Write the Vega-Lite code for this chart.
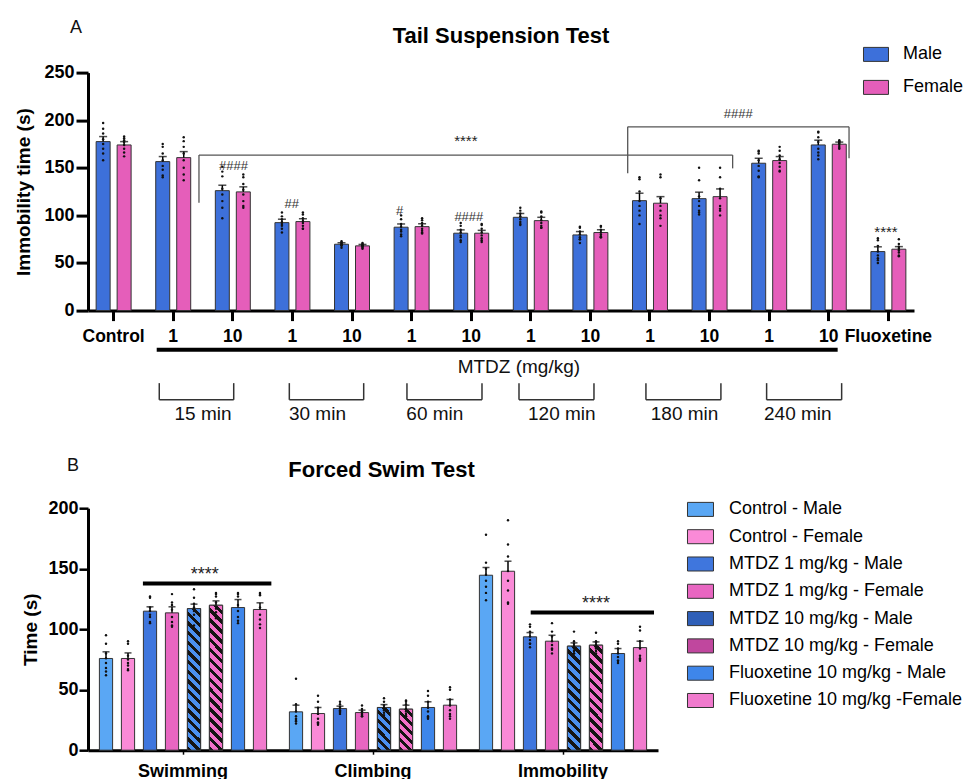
{
"$schema": "https://vega.github.io/schema/vega-lite/v6.json",
"padding": {"left": 14, "top": 18.6, "right": 0, "bottom": 0},
"background": "white",
"config": {
  "font": "Liberation Sans",
  "view": {"stroke": null},
  "axis": {"grid": false, "domainColor": "#000", "tickColor": "#000", "labelColor": "#000", "titleColor": "#000", "labelFont": "Liberation Sans", "titleFont": "Liberation Sans"},
  "legend": {"padding": 0, "labelFont": "Liberation Sans", "labelColor": "#000", "labelLimit": 400}
},
"datasets": {
  "A": [
    {"g":"Control","s":"Male","m":177.5,"e":182.8,"p":[197,191,186,180,175,170,165,158]},
    {"g":"Control","s":"Female","m":174,"e":177.5,"p":[183,181,179,177,174,170,166,162]},
    {"g":"1|15","s":"Male","m":156.5,"e":161.8,"p":[175,172,165,158,152,148,140,142]},
    {"g":"1|15","s":"Female","m":160.7,"e":167,"p":[182,178,172,165,158,150,143,137]},
    {"g":"10|15","s":"Male","m":126,"e":131.7,"p":[151,146,141,128,122,115,108,97]},
    {"g":"10|15","s":"Female","m":124.7,"e":130,"p":[143,140,133,127,122,115,108,110]},
    {"g":"1|30","s":"Male","m":92.4,"e":96,"p":[103,99,96,93,91,89,86,82]},
    {"g":"1|30","s":"Female","m":93.5,"e":96.5,"p":[103,101,97,94,92,89,86,86]},
    {"g":"10|30","s":"Male","m":69.7,"e":71.2,"p":[73,72,71,70,69,69,68,66]},
    {"g":"10|30","s":"Female","m":68,"e":69.5,"p":[71,70,69,68,68,67,66,65]},
    {"g":"1|60","s":"Male","m":87.6,"e":91,"p":[100,96,91,88,85,83,80,78]},
    {"g":"1|60","s":"Female","m":88.2,"e":91.2,"p":[97,95,92,89,86,84,82,81]},
    {"g":"10|60","s":"Male","m":81.3,"e":84.8,"p":[92,89,85,82,79,77,74,72]},
    {"g":"10|60","s":"Female","m":81.3,"e":84.3,"p":[91,90,86,82,79,76,74,72]},
    {"g":"1|120","s":"Male","m":98,"e":102,"p":[108,105,102,99,96,93,90,91]},
    {"g":"1|120","s":"Female","m":94.5,"e":98,"p":[104,103,99,95,92,89,87,87]},
    {"g":"10|120","s":"Male","m":79.5,"e":83,"p":[88,87,83,80,77,75,71,75]},
    {"g":"10|120","s":"Female","m":82,"e":84.8,"p":[89,88,85,82,80,78,77,77]},
    {"g":"1|180","s":"Male","m":115.5,"e":123.3,"p":[140,138,125,115,110,105,100,91]},
    {"g":"1|180","s":"Female","m":112.8,"e":119.7,"p":[143,140,118,110,105,100,97,89]},
    {"g":"10|180","s":"Male","m":117.6,"e":124.4,"p":[150,137,120,115,110,105,101,103]},
    {"g":"10|180","s":"Female","m":119.7,"e":127.8,"p":[150,140,128,118,110,105,100,107]},
    {"g":"1|240","s":"Male","m":154.8,"e":160,"p":[168,167,165,158,152,147,141,140]},
    {"g":"1|240","s":"Female","m":157.6,"e":161.8,"p":[172,168,163,159,155,151,147,146]},
    {"g":"10|240","s":"Male","m":174,"e":179,"p":[188,187,182,177,170,166,163,159]},
    {"g":"10|240","s":"Female","m":174.8,"e":177,"p":[179,178,177,176,175,173,171,170]},
    {"g":"Fluoxetine","s":"Male","m":62,"e":67,"p":[76,74,68,62,58,55,53,50]},
    {"g":"Fluoxetine","s":"Female","m":64.5,"e":67.2,"p":[75,70,67,65,63,61,58,57]}
  ],
  "annA": [
    {"k":"thin","x1":1.932,"x2":10.887,"y1":163.4,"y2":163.4},
    {"k":"thin","x1":1.932,"x2":1.932,"y1":163.4,"y2":113.3},
    {"k":"thin","x1":10.887,"x2":10.887,"y1":163.4,"y2":149.4},
    {"k":"thin","x1":9.126,"x2":12.84,"y1":193,"y2":193},
    {"k":"thin","x1":9.126,"x2":9.126,"y1":193,"y2":144.2},
    {"k":"thin","x1":12.84,"x2":12.84,"y1":193,"y2":160},
    {"k":"brk","x1":1.266,"x2":1.266,"y1":-76.2,"y2":-93.7},
    {"k":"brk","x1":1.266,"x2":2.515,"y1":-93.7,"y2":-93.7},
    {"k":"brk","x1":2.515,"x2":2.515,"y1":-76.2,"y2":-93.7},
    {"k":"brk","x1":3.448,"x2":3.448,"y1":-76.2,"y2":-93.7},
    {"k":"brk","x1":3.448,"x2":4.696,"y1":-93.7,"y2":-93.7},
    {"k":"brk","x1":4.696,"x2":4.696,"y1":-76.2,"y2":-93.7},
    {"k":"brk","x1":5.422,"x2":5.422,"y1":-76.2,"y2":-93.7},
    {"k":"brk","x1":5.422,"x2":6.681,"y1":-93.7,"y2":-93.7},
    {"k":"brk","x1":6.681,"x2":6.681,"y1":-76.2,"y2":-93.7},
    {"k":"brk","x1":7.302,"x2":7.302,"y1":-76.2,"y2":-93.7},
    {"k":"brk","x1":7.302,"x2":8.56,"y1":-93.7,"y2":-93.7},
    {"k":"brk","x1":8.56,"x2":8.56,"y1":-76.2,"y2":-93.7},
    {"k":"brk","x1":9.432,"x2":9.432,"y1":-76.2,"y2":-93.7},
    {"k":"brk","x1":9.432,"x2":10.69,"y1":-93.7,"y2":-93.7},
    {"k":"brk","x1":10.69,"x2":10.69,"y1":-76.2,"y2":-93.7},
    {"k":"brk","x1":11.457,"x2":11.457,"y1":-76.2,"y2":-93.7},
    {"k":"brk","x1":11.457,"x2":12.716,"y1":-93.7,"y2":-93.7},
    {"k":"brk","x1":12.716,"x2":12.716,"y1":-76.2,"y2":-93.7},
    {"k":"thick","x1":1.223,"x2":12.649,"y1":-41.2,"y2":-41.2}
  ],
  "txtA": [
    {"k":"letter","x":-0.131,"y":291.4,"t":"A"},
    {"k":"title","x":7.0,"y":280.9,"t":"Tail Suspension Test"},
    {"k":"star","x":6.41,"y":173.2,"t":"****"},
    {"k":"star","x":13.46,"y":77.4,"t":"****"},
    {"k":"hash","x":10.98,"y":202.5,"t":"####"},
    {"k":"hash","x":2.51,"y":147.2,"t":"####"},
    {"k":"hash","x":3.49,"y":108,"t":"##"},
    {"k":"hash","x":5.3,"y":100.7,"t":"#"},
    {"k":"hash","x":6.46,"y":93.7,"t":"####"},
    {"k":"label","x":7.3,"y":-65.4,"t":"MTDZ (mg/kg)"},
    {"k":"label","x":2.0,"y":-115,"t":"15 min"},
    {"k":"label","x":3.92,"y":-115,"t":"30 min"},
    {"k":"label","x":5.89,"y":-115,"t":"60 min"},
    {"k":"label","x":8.02,"y":-115,"t":"120 min"},
    {"k":"label","x":10.08,"y":-115,"t":"180 min"},
    {"k":"label","x":11.98,"y":-115,"t":"240 min"}
  ],
  "B": [
    {"g":"Swimming","t":"Control - Male","m":75.8,"e":81.3,"p":[95,88,80,76,72,68,62,65]},
    {"g":"Swimming","t":"Control - Female","m":75.8,"e":80.4,"p":[90,88,78,75,72,70,67,66]},
    {"g":"Swimming","t":"MTDZ 1 mg/kg - Male","m":114.9,"e":118.5,"p":[127,126,118,115,112,110,106,105]},
    {"g":"Swimming","t":"MTDZ 1 mg/kg - Female","m":113.5,"e":118.5,"p":[129,122,120,116,110,106,103,102]},
    {"g":"Swimming","t":"MTDZ 10 mg/kg - Male","m":117,"e":120.7,"p":[133,126,121,118,115,112,108,103]},
    {"g":"Swimming","t":"MTDZ 10 mg/kg - Female","m":119.8,"e":123.4,"p":[130,129,127,122,117,114,110,109]},
    {"g":"Swimming","t":"Fluoxetine 10 mg/kg - Male","m":117.9,"e":124.5,"p":[130,129,127,120,115,110,105,107]},
    {"g":"Swimming","t":"Fluoxetine 10 mg/kg -Female","m":116.3,"e":121.8,"p":[130,129,128,118,112,108,104,101]},
    {"g":"Climbing","t":"Control - Male","m":31.7,"e":37.2,"p":[59,38,32,28,26,24,25,22]},
    {"g":"Climbing","t":"Control - Female","m":30.3,"e":35.3,"p":[45,40,35,30,26,23,22,21]},
    {"g":"Climbing","t":"MTDZ 1 mg/kg - Male","m":34.4,"e":36.4,"p":[40,38,36,35,33,32,31,30]},
    {"g":"Climbing","t":"MTDZ 1 mg/kg - Female","m":31.1,"e":33.1,"p":[37,34,32,31,30,29,28,28]},
    {"g":"Climbing","t":"MTDZ 10 mg/kg - Male","m":35.3,"e":37.7,"p":[43,40,37,35,34,33,31,29]},
    {"g":"Climbing","t":"MTDZ 10 mg/kg - Female","m":33.9,"e":37.2,"p":[41,40,38,34,32,30,28,28]},
    {"g":"Climbing","t":"Fluoxetine 10 mg/kg - Male","m":35.3,"e":40,"p":[49,45,40,35,32,28,26,27]},
    {"g":"Climbing","t":"Fluoxetine 10 mg/kg -Female","m":37.2,"e":41.9,"p":[52,50,42,37,33,30,28,26]},
    {"g":"Immobility","t":"Control - Male","m":144.6,"e":151,"p":[178,155,150,145,140,135,130,124]},
    {"g":"Immobility","t":"Control - Female","m":147.9,"e":156.2,"p":[190,170,160,148,140,132,122,121]},
    {"g":"Immobility","t":"MTDZ 1 mg/kg - Male","m":93.7,"e":97.2,"p":[104,102,98,94,91,88,85,88]},
    {"g":"Immobility","t":"MTDZ 1 mg/kg - Female","m":90.1,"e":95,"p":[105,98,94,90,87,84,80,83]},
    {"g":"Immobility","t":"MTDZ 10 mg/kg - Male","m":86,"e":88.7,"p":[98,90,88,86,84,82,80,80]},
    {"g":"Immobility","t":"MTDZ 10 mg/kg - Female","m":86.8,"e":89.5,"p":[97,90,89,87,85,84,82,80]},
    {"g":"Immobility","t":"Fluoxetine 10 mg/kg - Male","m":79.9,"e":84,"p":[90,88,84,80,77,74,72,74]},
    {"g":"Immobility","t":"Fluoxetine 10 mg/kg -Female","m":84.8,"e":90.1,"p":[102,99,90,84,78,76,74,75]}
  ],
  "annB": [
    {"k":"thick","x1":0.289,"x2":0.965,"y1":137.8,"y2":137.8},
    {"k":"thick","x1":2.33,"x2":2.979,"y1":113.8,"y2":113.8}
  ],
  "txtB": [
    {"k":"letter","x":-0.079,"y":230.6,"t":"B"},
    {"k":"title","x":1.545,"y":225.4,"t":"Forced Swim Test"},
    {"k":"star","x":0.614,"y":141,"t":"****"},
    {"k":"star","x":2.674,"y":116.9,"t":"****"}
  ]
},
"vconcat": [
  {
    "width": 826,
    "height": 238,
    "layer": [
      {
        "data": {"name": "A"},
        "layer": [
          {
            "mark": {"type": "bar", "stroke": "#333", "strokeWidth": 1},
            "encoding": {
              "x": {"field": "g", "type": "nominal", "title": null,
                "scale": {"domain": ["Control","1|15","10|15","1|30","10|30","1|60","10|60","1|120","10|120","1|180","10|180","1|240","10|240","Fluoxetine"], "paddingInner": 0.413, "paddingOuter": 0.1365},
                "axis": {"labelExpr": "split(datum.label, '|')[0]", "labelAngle": 0, "labelFontSize": 17.5, "labelFontWeight": "bold", "domainWidth": 3, "tickWidth": 3, "tickSize": 10, "labelPadding": 7, "labelOverlap": false, "labelBound": false, "labelFlush": false}},
              "xOffset": {"field": "s", "type": "nominal", "scale": {"domain": ["Male","Female"], "paddingInner": 0.3333, "paddingOuter": 0}},
              "y": {"field": "m", "type": "quantitative", "title": "Immobility time (s)", "scale": {"domain": [0, 250], "nice": false},
                "axis": {"values": [0,50,100,150,200,250], "labelFontSize": 18, "labelFontWeight": "bold", "titleFontSize": 19, "titleFontWeight": "bold", "domainWidth": 3, "tickWidth": 3, "tickSize": 12, "labelPadding": 2, "titlePadding": 10}},
              "color": {"field": "s", "type": "nominal", "scale": {"domain": ["Male","Female"], "range": ["#3d70da", "#e55eba"]},
                "legend": {"title": null, "orient": "none", "legendX": 775, "legendY": -31.2, "symbolType": "M-1,-0.56H1V0.56H-1Z", "symbolSize": 625, "symbolStrokeColor": "#333", "symbolStrokeWidth": 1, "labelFontSize": 18, "labelOffset": 14, "rowPadding": 11}}
            }
          },
          {
            "mark": {"type": "rule", "color": "#000", "strokeWidth": 1.5},
            "encoding": {
              "x": {"field": "g", "type": "nominal", "title": null, "scale": {"domain": ["Control","1|15","10|15","1|30","10|30","1|60","10|60","1|120","10|120","1|180","10|180","1|240","10|240","Fluoxetine"], "paddingInner": 0.413, "paddingOuter": 0.1365}},
              "xOffset": {"field": "s", "type": "nominal", "scale": {"domain": ["Male","Female"], "paddingInner": 0.3333, "paddingOuter": 0}},
              "y": {"field": "m", "type": "quantitative", "title": "Immobility time (s)", "scale": {"domain": [0, 250], "nice": false}},
              "y2": {"field": "e"}
            }
          },
          {
            "mark": {"type": "tick", "color": "#000", "thickness": 1.5, "size": 8},
            "encoding": {
              "x": {"field": "g", "type": "nominal", "title": null, "scale": {"domain": ["Control","1|15","10|15","1|30","10|30","1|60","10|60","1|120","10|120","1|180","10|180","1|240","10|240","Fluoxetine"], "paddingInner": 0.413, "paddingOuter": 0.1365}},
              "xOffset": {"field": "s", "type": "nominal", "scale": {"domain": ["Male","Female"], "paddingInner": 0.3333, "paddingOuter": 0}},
              "y": {"field": "e", "type": "quantitative", "title": "Immobility time (s)", "scale": {"domain": [0, 250], "nice": false}}
            }
          },
          {
            "transform": [{"flatten": ["p"]}],
            "mark": {"type": "point", "filled": true, "color": "#111", "size": 6, "opacity": 1},
            "encoding": {
              "x": {"field": "g", "type": "nominal", "title": null, "scale": {"domain": ["Control","1|15","10|15","1|30","10|30","1|60","10|60","1|120","10|120","1|180","10|180","1|240","10|240","Fluoxetine"], "paddingInner": 0.413, "paddingOuter": 0.1365}},
              "xOffset": {"field": "s", "type": "nominal", "scale": {"domain": ["Male","Female"], "paddingInner": 0.3333, "paddingOuter": 0}},
              "y": {"field": "p", "type": "quantitative", "title": "Immobility time (s)", "scale": {"domain": [0, 250], "nice": false}}
            }
          }
        ]
      },
      {
        "data": {"name": "annA"},
        "layer": [
          {
            "transform": [{"filter": "datum.k === 'thin'"}],
            "mark": {"type": "rule", "color": "#555", "strokeWidth": 1.3},
            "encoding": {
              "x": {"field": "x1", "type": "quantitative", "axis": null, "scale": {"domain": [0.07, 13.93], "nice": false, "zero": false}},
              "x2": {"field": "x2"},
              "y": {"field": "y1", "type": "quantitative", "title": "Immobility time (s)", "scale": {"domain": [0, 250], "nice": false}},
              "y2": {"field": "y2"}
            }
          },
          {
            "transform": [{"filter": "datum.k === 'brk'"}],
            "mark": {"type": "rule", "color": "#333", "strokeWidth": 1.5},
            "encoding": {
              "x": {"field": "x1", "type": "quantitative", "axis": null, "scale": {"domain": [0.07, 13.93], "nice": false, "zero": false}},
              "x2": {"field": "x2"},
              "y": {"field": "y1", "type": "quantitative", "title": "Immobility time (s)", "scale": {"domain": [0, 250], "nice": false}},
              "y2": {"field": "y2"}
            }
          },
          {
            "transform": [{"filter": "datum.k === 'thick'"}],
            "mark": {"type": "rule", "color": "#000", "strokeWidth": 4},
            "encoding": {
              "x": {"field": "x1", "type": "quantitative", "axis": null, "scale": {"domain": [0.07, 13.93], "nice": false, "zero": false}},
              "x2": {"field": "x2"},
              "y": {"field": "y1", "type": "quantitative", "title": "Immobility time (s)", "scale": {"domain": [0, 250], "nice": false}},
              "y2": {"field": "y2"}
            }
          },
          {
            "data": {"name": "txtA"},
            "transform": [{"filter": "datum.k === 'letter'"}],
            "mark": {"type": "text", "fontSize": 18, "align": "center", "baseline": "alphabetic", "color": "#111"},
            "encoding": {
              "x": {"field": "x", "type": "quantitative", "axis": null, "scale": {"domain": [0.07, 13.93], "nice": false, "zero": false}},
              "y": {"field": "y", "type": "quantitative", "title": "Immobility time (s)", "scale": {"domain": [0, 250], "nice": false}},
              "text": {"field": "t"}
            }
          },
          {
            "data": {"name": "txtA"},
            "transform": [{"filter": "datum.k === 'title'"}],
            "mark": {"type": "text", "fontSize": 22, "fontWeight": "bold", "align": "center", "baseline": "alphabetic", "color": "#000"},
            "encoding": {
              "x": {"field": "x", "type": "quantitative", "axis": null, "scale": {"domain": [0.07, 13.93], "nice": false, "zero": false}},
              "y": {"field": "y", "type": "quantitative", "title": "Immobility time (s)", "scale": {"domain": [0, 250], "nice": false}},
              "text": {"field": "t"}
            }
          },
          {
            "data": {"name": "txtA"},
            "transform": [{"filter": "datum.k === 'star'"}],
            "mark": {"type": "text", "fontSize": 15, "align": "center", "baseline": "alphabetic", "color": "#222"},
            "encoding": {
              "x": {"field": "x", "type": "quantitative", "axis": null, "scale": {"domain": [0.07, 13.93], "nice": false, "zero": false}},
              "y": {"field": "y", "type": "quantitative", "title": "Immobility time (s)", "scale": {"domain": [0, 250], "nice": false}},
              "text": {"field": "t"}
            }
          },
          {
            "data": {"name": "txtA"},
            "transform": [{"filter": "datum.k === 'hash'"}],
            "mark": {"type": "text", "fontSize": 13, "align": "center", "baseline": "alphabetic", "color": "#333"},
            "encoding": {
              "x": {"field": "x", "type": "quantitative", "axis": null, "scale": {"domain": [0.07, 13.93], "nice": false, "zero": false}},
              "y": {"field": "y", "type": "quantitative", "title": "Immobility time (s)", "scale": {"domain": [0, 250], "nice": false}},
              "text": {"field": "t"}
            }
          },
          {
            "data": {"name": "txtA"},
            "transform": [{"filter": "datum.k === 'label'"}],
            "mark": {"type": "text", "fontSize": 19, "align": "center", "baseline": "alphabetic", "color": "#111"},
            "encoding": {
              "x": {"field": "x", "type": "quantitative", "axis": null, "scale": {"domain": [0.07, 13.93], "nice": false, "zero": false}},
              "y": {"field": "y", "type": "quantitative", "title": "Immobility time (s)", "scale": {"domain": [0, 250], "nice": false}},
              "text": {"field": "t"}
            }
          }
        ]
      }
    ],
    "resolve": {"scale": {"x": "independent"}}
  },
  {
    "width": 570,
    "height": 242,
    "layer": [
      {
        "data": {"name": "B"},
        "layer": [
          {
            "mark": {"type": "bar", "stroke": "#333", "strokeWidth": 1},
            "encoding": {
              "x": {"field": "g", "type": "nominal", "title": null, "scale": {"domain": ["Swimming","Climbing","Immobility"], "paddingInner": 0.12, "paddingOuter": 0.06},
                "axis": {"labelAngle": 0, "labelFontSize": 18, "labelFontWeight": "bold", "domainWidth": 3, "tickWidth": 1.5, "tickSize": 4, "labelPadding": 8}},
              "xOffset": {"field": "t", "type": "nominal", "scale": {"domain": ["Control - Male","Control - Female","MTDZ 1 mg/kg - Male","MTDZ 1 mg/kg - Female","MTDZ 10 mg/kg - Male","MTDZ 10 mg/kg - Female","Fluoxetine 10 mg/kg - Male","Fluoxetine 10 mg/kg -Female"], "paddingInner": 0.4, "paddingOuter": 0}},
              "y": {"field": "m", "type": "quantitative", "title": "Time (s)", "scale": {"domain": [0, 200], "nice": false},
                "axis": {"values": [0,50,100,150,200], "labelFontSize": 18, "labelFontWeight": "bold", "titleFontSize": 19, "titleFontWeight": "bold", "domainWidth": 3, "tickWidth": 2.5, "tickSize": 9, "labelPadding": 1, "titlePadding": 7}},
              "color": {"field": "t", "type": "nominal",
                "scale": {"domain": ["Control - Male","Control - Female","MTDZ 1 mg/kg - Male","MTDZ 1 mg/kg - Female","MTDZ 10 mg/kg - Male","MTDZ 10 mg/kg - Female","Fluoxetine 10 mg/kg - Male","Fluoxetine 10 mg/kg -Female"],
                  "range": ["#5aa7f4","#fa8ad7","#3f76dd","#e866c1","#2f5fb8","#c0479e","#3e86ea","#f07acd"]},
                "legend": {"title": null, "orient": "none", "legendX": 599, "legendY": -12.3, "symbolType": "M-1,-0.54H1V0.54H-1Z", "symbolSize": 676, "symbolStrokeColor": "#333", "symbolStrokeWidth": 1, "labelFontSize": 18, "labelOffset": 15, "rowPadding": 4.3}}
            }
          },
          {
            "transform": [{"filter": "datum.g === 'Swimming' && datum.t === 'MTDZ 10 mg/kg - Male'"}],
            "mark": {"type": "bar", "stroke": "#333", "strokeWidth": 1, "fill": {"gradient": "linear", "x1": 1, "y1": 0, "x2": 0.9, "y2": 1.083, "stops": [
              {"offset":0,"color":"#4b90f0"},{"offset":0.0344,"color":"#4b90f0"},{"offset":0.0344,"color":"#141414"},{"offset":0.0625,"color":"#141414"},
              {"offset":0.0625,"color":"#4b90f0"},{"offset":0.0969,"color":"#4b90f0"},{"offset":0.0969,"color":"#141414"},{"offset":0.125,"color":"#141414"},
              {"offset":0.125,"color":"#4b90f0"},{"offset":0.1594,"color":"#4b90f0"},{"offset":0.1594,"color":"#141414"},{"offset":0.1875,"color":"#141414"},
              {"offset":0.1875,"color":"#4b90f0"},{"offset":0.2219,"color":"#4b90f0"},{"offset":0.2219,"color":"#141414"},{"offset":0.25,"color":"#141414"},
              {"offset":0.25,"color":"#4b90f0"},{"offset":0.2844,"color":"#4b90f0"},{"offset":0.2844,"color":"#141414"},{"offset":0.3125,"color":"#141414"},
              {"offset":0.3125,"color":"#4b90f0"},{"offset":0.3469,"color":"#4b90f0"},{"offset":0.3469,"color":"#141414"},{"offset":0.375,"color":"#141414"},
              {"offset":0.375,"color":"#4b90f0"},{"offset":0.4094,"color":"#4b90f0"},{"offset":0.4094,"color":"#141414"},{"offset":0.4375,"color":"#141414"},
              {"offset":0.4375,"color":"#4b90f0"},{"offset":0.4719,"color":"#4b90f0"},{"offset":0.4719,"color":"#141414"},{"offset":0.5,"color":"#141414"},
              {"offset":0.5,"color":"#4b90f0"},{"offset":0.5344,"color":"#4b90f0"},{"offset":0.5344,"color":"#141414"},{"offset":0.5625,"color":"#141414"},
              {"offset":0.5625,"color":"#4b90f0"},{"offset":0.5969,"color":"#4b90f0"},{"offset":0.5969,"color":"#141414"},{"offset":0.625,"color":"#141414"},
              {"offset":0.625,"color":"#4b90f0"},{"offset":0.6594,"color":"#4b90f0"},{"offset":0.6594,"color":"#141414"},{"offset":0.6875,"color":"#141414"},
              {"offset":0.6875,"color":"#4b90f0"},{"offset":0.7219,"color":"#4b90f0"},{"offset":0.7219,"color":"#141414"},{"offset":0.75,"color":"#141414"},
              {"offset":0.75,"color":"#4b90f0"},{"offset":0.7844,"color":"#4b90f0"},{"offset":0.7844,"color":"#141414"},{"offset":0.8125,"color":"#141414"},
              {"offset":0.8125,"color":"#4b90f0"},{"offset":0.8469,"color":"#4b90f0"},{"offset":0.8469,"color":"#141414"},{"offset":0.875,"color":"#141414"},
              {"offset":0.875,"color":"#4b90f0"},{"offset":0.9094,"color":"#4b90f0"},{"offset":0.9094,"color":"#141414"},{"offset":0.9375,"color":"#141414"},
              {"offset":0.9375,"color":"#4b90f0"},{"offset":0.9719,"color":"#4b90f0"},{"offset":0.9719,"color":"#141414"},{"offset":1,"color":"#141414"}]}},
            "encoding": {
              "x": {"field": "g", "type": "nominal", "title": null, "scale": {"domain": ["Swimming","Climbing","Immobility"], "paddingInner": 0.12, "paddingOuter": 0.06}},
              "xOffset": {"field": "t", "type": "nominal", "scale": {"domain": ["Control - Male","Control - Female","MTDZ 1 mg/kg - Male","MTDZ 1 mg/kg - Female","MTDZ 10 mg/kg - Male","MTDZ 10 mg/kg - Female","Fluoxetine 10 mg/kg - Male","Fluoxetine 10 mg/kg -Female"], "paddingInner": 0.4, "paddingOuter": 0}},
              "y": {"field": "m", "type": "quantitative", "title": "Time (s)", "scale": {"domain": [0, 200], "nice": false}}
            }
          },
          {
            "transform": [{"filter": "datum.g === 'Swimming' && datum.t === 'MTDZ 10 mg/kg - Female'"}],
            "mark": {"type": "bar", "stroke": "#333", "strokeWidth": 1, "fill": {"gradient": "linear", "x1": 1, "y1": 0, "x2": 0.9, "y2": 1.083, "stops": [
              {"offset":0,"color":"#f270c9"},{"offset":0.0344,"color":"#f270c9"},{"offset":0.0344,"color":"#141414"},{"offset":0.0625,"color":"#141414"},
              {"offset":0.0625,"color":"#f270c9"},{"offset":0.0969,"color":"#f270c9"},{"offset":0.0969,"color":"#141414"},{"offset":0.125,"color":"#141414"},
              {"offset":0.125,"color":"#f270c9"},{"offset":0.1594,"color":"#f270c9"},{"offset":0.1594,"color":"#141414"},{"offset":0.1875,"color":"#141414"},
              {"offset":0.1875,"color":"#f270c9"},{"offset":0.2219,"color":"#f270c9"},{"offset":0.2219,"color":"#141414"},{"offset":0.25,"color":"#141414"},
              {"offset":0.25,"color":"#f270c9"},{"offset":0.2844,"color":"#f270c9"},{"offset":0.2844,"color":"#141414"},{"offset":0.3125,"color":"#141414"},
              {"offset":0.3125,"color":"#f270c9"},{"offset":0.3469,"color":"#f270c9"},{"offset":0.3469,"color":"#141414"},{"offset":0.375,"color":"#141414"},
              {"offset":0.375,"color":"#f270c9"},{"offset":0.4094,"color":"#f270c9"},{"offset":0.4094,"color":"#141414"},{"offset":0.4375,"color":"#141414"},
              {"offset":0.4375,"color":"#f270c9"},{"offset":0.4719,"color":"#f270c9"},{"offset":0.4719,"color":"#141414"},{"offset":0.5,"color":"#141414"},
              {"offset":0.5,"color":"#f270c9"},{"offset":0.5344,"color":"#f270c9"},{"offset":0.5344,"color":"#141414"},{"offset":0.5625,"color":"#141414"},
              {"offset":0.5625,"color":"#f270c9"},{"offset":0.5969,"color":"#f270c9"},{"offset":0.5969,"color":"#141414"},{"offset":0.625,"color":"#141414"},
              {"offset":0.625,"color":"#f270c9"},{"offset":0.6594,"color":"#f270c9"},{"offset":0.6594,"color":"#141414"},{"offset":0.6875,"color":"#141414"},
              {"offset":0.6875,"color":"#f270c9"},{"offset":0.7219,"color":"#f270c9"},{"offset":0.7219,"color":"#141414"},{"offset":0.75,"color":"#141414"},
              {"offset":0.75,"color":"#f270c9"},{"offset":0.7844,"color":"#f270c9"},{"offset":0.7844,"color":"#141414"},{"offset":0.8125,"color":"#141414"},
              {"offset":0.8125,"color":"#f270c9"},{"offset":0.8469,"color":"#f270c9"},{"offset":0.8469,"color":"#141414"},{"offset":0.875,"color":"#141414"},
              {"offset":0.875,"color":"#f270c9"},{"offset":0.9094,"color":"#f270c9"},{"offset":0.9094,"color":"#141414"},{"offset":0.9375,"color":"#141414"},
              {"offset":0.9375,"color":"#f270c9"},{"offset":0.9719,"color":"#f270c9"},{"offset":0.9719,"color":"#141414"},{"offset":1,"color":"#141414"}]}},
            "encoding": {
              "x": {"field": "g", "type": "nominal", "title": null, "scale": {"domain": ["Swimming","Climbing","Immobility"], "paddingInner": 0.12, "paddingOuter": 0.06}},
              "xOffset": {"field": "t", "type": "nominal", "scale": {"domain": ["Control - Male","Control - Female","MTDZ 1 mg/kg - Male","MTDZ 1 mg/kg - Female","MTDZ 10 mg/kg - Male","MTDZ 10 mg/kg - Female","Fluoxetine 10 mg/kg - Male","Fluoxetine 10 mg/kg -Female"], "paddingInner": 0.4, "paddingOuter": 0}},
              "y": {"field": "m", "type": "quantitative", "title": "Time (s)", "scale": {"domain": [0, 200], "nice": false}}
            }
          },
          {
            "transform": [{"filter": "datum.g === 'Climbing' && datum.t === 'MTDZ 10 mg/kg - Male'"}],
            "mark": {"type": "bar", "stroke": "#333", "strokeWidth": 1, "fill": {"gradient": "linear", "x1": 1, "y1": 0, "x2": 0.624, "y2": 1.196, "stops": [
              {"offset":0,"color":"#4b90f0"},{"offset":0.0917,"color":"#4b90f0"},{"offset":0.0917,"color":"#141414"},{"offset":0.1667,"color":"#141414"},
              {"offset":0.1667,"color":"#4b90f0"},{"offset":0.2583,"color":"#4b90f0"},{"offset":0.2583,"color":"#141414"},{"offset":0.3333,"color":"#141414"},
              {"offset":0.3333,"color":"#4b90f0"},{"offset":0.425,"color":"#4b90f0"},{"offset":0.425,"color":"#141414"},{"offset":0.5,"color":"#141414"},
              {"offset":0.5,"color":"#4b90f0"},{"offset":0.5917,"color":"#4b90f0"},{"offset":0.5917,"color":"#141414"},{"offset":0.6667,"color":"#141414"},
              {"offset":0.6667,"color":"#4b90f0"},{"offset":0.7583,"color":"#4b90f0"},{"offset":0.7583,"color":"#141414"},{"offset":0.8333,"color":"#141414"},
              {"offset":0.8333,"color":"#4b90f0"},{"offset":0.925,"color":"#4b90f0"},{"offset":0.925,"color":"#141414"},{"offset":1,"color":"#141414"}]}},
            "encoding": {
              "x": {"field": "g", "type": "nominal", "title": null, "scale": {"domain": ["Swimming","Climbing","Immobility"], "paddingInner": 0.12, "paddingOuter": 0.06}},
              "xOffset": {"field": "t", "type": "nominal", "scale": {"domain": ["Control - Male","Control - Female","MTDZ 1 mg/kg - Male","MTDZ 1 mg/kg - Female","MTDZ 10 mg/kg - Male","MTDZ 10 mg/kg - Female","Fluoxetine 10 mg/kg - Male","Fluoxetine 10 mg/kg -Female"], "paddingInner": 0.4, "paddingOuter": 0}},
              "y": {"field": "m", "type": "quantitative", "title": "Time (s)", "scale": {"domain": [0, 200], "nice": false}}
            }
          },
          {
            "transform": [{"filter": "datum.g === 'Climbing' && datum.t === 'MTDZ 10 mg/kg - Female'"}],
            "mark": {"type": "bar", "stroke": "#333", "strokeWidth": 1, "fill": {"gradient": "linear", "x1": 1, "y1": 0, "x2": 0.624, "y2": 1.196, "stops": [
              {"offset":0,"color":"#f270c9"},{"offset":0.0917,"color":"#f270c9"},{"offset":0.0917,"color":"#141414"},{"offset":0.1667,"color":"#141414"},
              {"offset":0.1667,"color":"#f270c9"},{"offset":0.2583,"color":"#f270c9"},{"offset":0.2583,"color":"#141414"},{"offset":0.3333,"color":"#141414"},
              {"offset":0.3333,"color":"#f270c9"},{"offset":0.425,"color":"#f270c9"},{"offset":0.425,"color":"#141414"},{"offset":0.5,"color":"#141414"},
              {"offset":0.5,"color":"#f270c9"},{"offset":0.5917,"color":"#f270c9"},{"offset":0.5917,"color":"#141414"},{"offset":0.6667,"color":"#141414"},
              {"offset":0.6667,"color":"#f270c9"},{"offset":0.7583,"color":"#f270c9"},{"offset":0.7583,"color":"#141414"},{"offset":0.8333,"color":"#141414"},
              {"offset":0.8333,"color":"#f270c9"},{"offset":0.925,"color":"#f270c9"},{"offset":0.925,"color":"#141414"},{"offset":1,"color":"#141414"}]}},
            "encoding": {
              "x": {"field": "g", "type": "nominal", "title": null, "scale": {"domain": ["Swimming","Climbing","Immobility"], "paddingInner": 0.12, "paddingOuter": 0.06}},
              "xOffset": {"field": "t", "type": "nominal", "scale": {"domain": ["Control - Male","Control - Female","MTDZ 1 mg/kg - Male","MTDZ 1 mg/kg - Female","MTDZ 10 mg/kg - Male","MTDZ 10 mg/kg - Female","Fluoxetine 10 mg/kg - Male","Fluoxetine 10 mg/kg -Female"], "paddingInner": 0.4, "paddingOuter": 0}},
              "y": {"field": "m", "type": "quantitative", "title": "Time (s)", "scale": {"domain": [0, 200], "nice": false}}
            }
          },
          {
            "transform": [{"filter": "datum.g === 'Immobility' && datum.t === 'MTDZ 10 mg/kg - Male'"}],
            "mark": {"type": "bar", "stroke": "#333", "strokeWidth": 1, "fill": {"gradient": "linear", "x1": 1, "y1": 0, "x2": 0.86, "y2": 1.109, "stops": [
              {"offset":0,"color":"#4b90f0"},{"offset":0.0458,"color":"#4b90f0"},{"offset":0.0458,"color":"#141414"},{"offset":0.0833,"color":"#141414"},
              {"offset":0.0833,"color":"#4b90f0"},{"offset":0.1292,"color":"#4b90f0"},{"offset":0.1292,"color":"#141414"},{"offset":0.1667,"color":"#141414"},
              {"offset":0.1667,"color":"#4b90f0"},{"offset":0.2125,"color":"#4b90f0"},{"offset":0.2125,"color":"#141414"},{"offset":0.25,"color":"#141414"},
              {"offset":0.25,"color":"#4b90f0"},{"offset":0.2958,"color":"#4b90f0"},{"offset":0.2958,"color":"#141414"},{"offset":0.3333,"color":"#141414"},
              {"offset":0.3333,"color":"#4b90f0"},{"offset":0.3792,"color":"#4b90f0"},{"offset":0.3792,"color":"#141414"},{"offset":0.4167,"color":"#141414"},
              {"offset":0.4167,"color":"#4b90f0"},{"offset":0.4625,"color":"#4b90f0"},{"offset":0.4625,"color":"#141414"},{"offset":0.5,"color":"#141414"},
              {"offset":0.5,"color":"#4b90f0"},{"offset":0.5458,"color":"#4b90f0"},{"offset":0.5458,"color":"#141414"},{"offset":0.5833,"color":"#141414"},
              {"offset":0.5833,"color":"#4b90f0"},{"offset":0.6292,"color":"#4b90f0"},{"offset":0.6292,"color":"#141414"},{"offset":0.6667,"color":"#141414"},
              {"offset":0.6667,"color":"#4b90f0"},{"offset":0.7125,"color":"#4b90f0"},{"offset":0.7125,"color":"#141414"},{"offset":0.75,"color":"#141414"},
              {"offset":0.75,"color":"#4b90f0"},{"offset":0.7958,"color":"#4b90f0"},{"offset":0.7958,"color":"#141414"},{"offset":0.8333,"color":"#141414"},
              {"offset":0.8333,"color":"#4b90f0"},{"offset":0.8792,"color":"#4b90f0"},{"offset":0.8792,"color":"#141414"},{"offset":0.9167,"color":"#141414"},
              {"offset":0.9167,"color":"#4b90f0"},{"offset":0.9625,"color":"#4b90f0"},{"offset":0.9625,"color":"#141414"},{"offset":1,"color":"#141414"}]}},
            "encoding": {
              "x": {"field": "g", "type": "nominal", "title": null, "scale": {"domain": ["Swimming","Climbing","Immobility"], "paddingInner": 0.12, "paddingOuter": 0.06}},
              "xOffset": {"field": "t", "type": "nominal", "scale": {"domain": ["Control - Male","Control - Female","MTDZ 1 mg/kg - Male","MTDZ 1 mg/kg - Female","MTDZ 10 mg/kg - Male","MTDZ 10 mg/kg - Female","Fluoxetine 10 mg/kg - Male","Fluoxetine 10 mg/kg -Female"], "paddingInner": 0.4, "paddingOuter": 0}},
              "y": {"field": "m", "type": "quantitative", "title": "Time (s)", "scale": {"domain": [0, 200], "nice": false}}
            }
          },
          {
            "transform": [{"filter": "datum.g === 'Immobility' && datum.t === 'MTDZ 10 mg/kg - Female'"}],
            "mark": {"type": "bar", "stroke": "#333", "strokeWidth": 1, "fill": {"gradient": "linear", "x1": 1, "y1": 0, "x2": 0.86, "y2": 1.109, "stops": [
              {"offset":0,"color":"#f270c9"},{"offset":0.0458,"color":"#f270c9"},{"offset":0.0458,"color":"#141414"},{"offset":0.0833,"color":"#141414"},
              {"offset":0.0833,"color":"#f270c9"},{"offset":0.1292,"color":"#f270c9"},{"offset":0.1292,"color":"#141414"},{"offset":0.1667,"color":"#141414"},
              {"offset":0.1667,"color":"#f270c9"},{"offset":0.2125,"color":"#f270c9"},{"offset":0.2125,"color":"#141414"},{"offset":0.25,"color":"#141414"},
              {"offset":0.25,"color":"#f270c9"},{"offset":0.2958,"color":"#f270c9"},{"offset":0.2958,"color":"#141414"},{"offset":0.3333,"color":"#141414"},
              {"offset":0.3333,"color":"#f270c9"},{"offset":0.3792,"color":"#f270c9"},{"offset":0.3792,"color":"#141414"},{"offset":0.4167,"color":"#141414"},
              {"offset":0.4167,"color":"#f270c9"},{"offset":0.4625,"color":"#f270c9"},{"offset":0.4625,"color":"#141414"},{"offset":0.5,"color":"#141414"},
              {"offset":0.5,"color":"#f270c9"},{"offset":0.5458,"color":"#f270c9"},{"offset":0.5458,"color":"#141414"},{"offset":0.5833,"color":"#141414"},
              {"offset":0.5833,"color":"#f270c9"},{"offset":0.6292,"color":"#f270c9"},{"offset":0.6292,"color":"#141414"},{"offset":0.6667,"color":"#141414"},
              {"offset":0.6667,"color":"#f270c9"},{"offset":0.7125,"color":"#f270c9"},{"offset":0.7125,"color":"#141414"},{"offset":0.75,"color":"#141414"},
              {"offset":0.75,"color":"#f270c9"},{"offset":0.7958,"color":"#f270c9"},{"offset":0.7958,"color":"#141414"},{"offset":0.8333,"color":"#141414"},
              {"offset":0.8333,"color":"#f270c9"},{"offset":0.8792,"color":"#f270c9"},{"offset":0.8792,"color":"#141414"},{"offset":0.9167,"color":"#141414"},
              {"offset":0.9167,"color":"#f270c9"},{"offset":0.9625,"color":"#f270c9"},{"offset":0.9625,"color":"#141414"},{"offset":1,"color":"#141414"}]}},
            "encoding": {
              "x": {"field": "g", "type": "nominal", "title": null, "scale": {"domain": ["Swimming","Climbing","Immobility"], "paddingInner": 0.12, "paddingOuter": 0.06}},
              "xOffset": {"field": "t", "type": "nominal", "scale": {"domain": ["Control - Male","Control - Female","MTDZ 1 mg/kg - Male","MTDZ 1 mg/kg - Female","MTDZ 10 mg/kg - Male","MTDZ 10 mg/kg - Female","Fluoxetine 10 mg/kg - Male","Fluoxetine 10 mg/kg -Female"], "paddingInner": 0.4, "paddingOuter": 0}},
              "y": {"field": "m", "type": "quantitative", "title": "Time (s)", "scale": {"domain": [0, 200], "nice": false}}
            }
          },
          {
            "mark": {"type": "rule", "color": "#000", "strokeWidth": 1.5},
            "encoding": {
              "x": {"field": "g", "type": "nominal", "title": null, "scale": {"domain": ["Swimming","Climbing","Immobility"], "paddingInner": 0.12, "paddingOuter": 0.06}},
              "xOffset": {"field": "t", "type": "nominal", "scale": {"domain": ["Control - Male","Control - Female","MTDZ 1 mg/kg - Male","MTDZ 1 mg/kg - Female","MTDZ 10 mg/kg - Male","MTDZ 10 mg/kg - Female","Fluoxetine 10 mg/kg - Male","Fluoxetine 10 mg/kg -Female"], "paddingInner": 0.4, "paddingOuter": 0}},
              "y": {"field": "m", "type": "quantitative", "title": "Time (s)", "scale": {"domain": [0, 200], "nice": false}},
              "y2": {"field": "e"}
            }
          },
          {
            "mark": {"type": "tick", "color": "#000", "thickness": 1.5, "size": 7},
            "encoding": {
              "x": {"field": "g", "type": "nominal", "title": null, "scale": {"domain": ["Swimming","Climbing","Immobility"], "paddingInner": 0.12, "paddingOuter": 0.06}},
              "xOffset": {"field": "t", "type": "nominal", "scale": {"domain": ["Control - Male","Control - Female","MTDZ 1 mg/kg - Male","MTDZ 1 mg/kg - Female","MTDZ 10 mg/kg - Male","MTDZ 10 mg/kg - Female","Fluoxetine 10 mg/kg - Male","Fluoxetine 10 mg/kg -Female"], "paddingInner": 0.4, "paddingOuter": 0}},
              "y": {"field": "e", "type": "quantitative", "title": "Time (s)", "scale": {"domain": [0, 200], "nice": false}}
            }
          },
          {
            "transform": [{"flatten": ["p"]}],
            "mark": {"type": "point", "filled": true, "color": "#111", "size": 6, "opacity": 1},
            "encoding": {
              "x": {"field": "g", "type": "nominal", "title": null, "scale": {"domain": ["Swimming","Climbing","Immobility"], "paddingInner": 0.12, "paddingOuter": 0.06}},
              "xOffset": {"field": "t", "type": "nominal", "scale": {"domain": ["Control - Male","Control - Female","MTDZ 1 mg/kg - Male","MTDZ 1 mg/kg - Female","MTDZ 10 mg/kg - Male","MTDZ 10 mg/kg - Female","Fluoxetine 10 mg/kg - Male","Fluoxetine 10 mg/kg -Female"], "paddingInner": 0.4, "paddingOuter": 0}},
              "y": {"field": "p", "type": "quantitative", "title": "Time (s)", "scale": {"domain": [0, 200], "nice": false}}
            }
          }
        ]
      },
      {
        "data": {"name": "annB"},
        "layer": [
          {
            "mark": {"type": "rule", "color": "#000", "strokeWidth": 4},
            "encoding": {
              "x": {"field": "x1", "type": "quantitative", "axis": null, "scale": {"domain": [0, 3], "nice": false, "zero": false}},
              "x2": {"field": "x2"},
              "y": {"field": "y1", "type": "quantitative", "title": "Time (s)", "scale": {"domain": [0, 200], "nice": false}},
              "y2": {"field": "y2"}
            }
          },
          {
            "data": {"name": "txtB"},
            "transform": [{"filter": "datum.k === 'letter'"}],
            "mark": {"type": "text", "fontSize": 18, "align": "center", "baseline": "alphabetic", "color": "#111"},
            "encoding": {
              "x": {"field": "x", "type": "quantitative", "axis": null, "scale": {"domain": [0, 3], "nice": false, "zero": false}},
              "y": {"field": "y", "type": "quantitative", "title": "Time (s)", "scale": {"domain": [0, 200], "nice": false}},
              "text": {"field": "t"}
            }
          },
          {
            "data": {"name": "txtB"},
            "transform": [{"filter": "datum.k === 'title'"}],
            "mark": {"type": "text", "fontSize": 22, "fontWeight": "bold", "align": "center", "baseline": "alphabetic", "color": "#000"},
            "encoding": {
              "x": {"field": "x", "type": "quantitative", "axis": null, "scale": {"domain": [0, 3], "nice": false, "zero": false}},
              "y": {"field": "y", "type": "quantitative", "title": "Time (s)", "scale": {"domain": [0, 200], "nice": false}},
              "text": {"field": "t"}
            }
          },
          {
            "data": {"name": "txtB"},
            "transform": [{"filter": "datum.k === 'star'"}],
            "mark": {"type": "text", "fontSize": 18, "align": "center", "baseline": "alphabetic", "color": "#222"},
            "encoding": {
              "x": {"field": "x", "type": "quantitative", "axis": null, "scale": {"domain": [0, 3], "nice": false, "zero": false}},
              "y": {"field": "y", "type": "quantitative", "title": "Time (s)", "scale": {"domain": [0, 200], "nice": false}},
              "text": {"field": "t"}
            }
          }
        ]
      }
    ],
    "resolve": {"scale": {"x": "independent"}}
  }
],
"spacing": 197.6,
"bounds": "flush",
"resolve": {"scale": {"color": "independent", "xOffset": "independent"}, "legend": {"color": "independent"}}
}
